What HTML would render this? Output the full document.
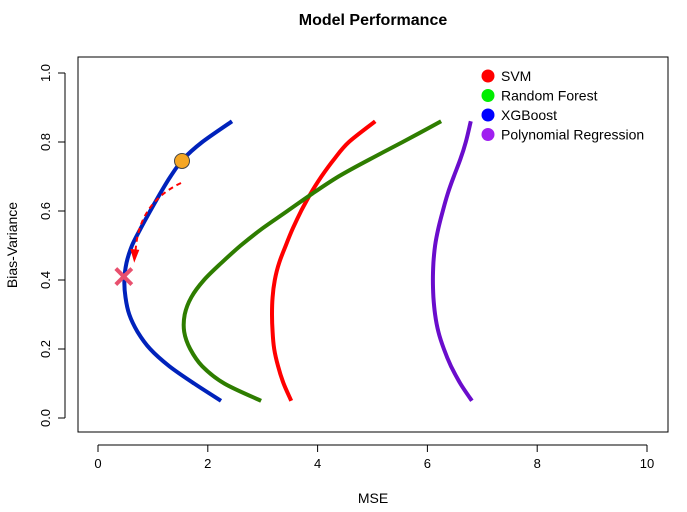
<!DOCTYPE html>
<html><head><meta charset="utf-8"><style>
body{margin:0;background:#fff;}
svg{display:block;font-family:"Liberation Sans",Arial,sans-serif;}
</style></head><body>
<svg id="chart" width="687" height="512">
<text x="373" y="25" text-anchor="middle" font-size="16" font-weight="bold">Model Performance</text>
<rect x="78" y="57" width="590" height="375" fill="none" stroke="#000" stroke-width="1"/>
<g id="xaxis"></g>
<g id="yaxis"></g>
<text x="373" y="503" text-anchor="middle" font-size="14">MSE</text>
<text transform="translate(17,245) rotate(-90)" text-anchor="middle" font-size="14">Bias-Variance</text>
<g id="series"></g>
<g id="annot"></g>
<g id="legend"></g>
</svg>
<script>
const xTicks=[0,2,4,6,8,10];
const yTicks=[0.0,0.2,0.4,0.6,0.8,1.0];
const seriesNames=["SVM","Random Forest","XGBoost","Polynomial Regression"];
const legendColors=["#ff0000","#00ee00","#0000ff","#a020f0"];
const yVals=[0.05,0.1,0.15,0.2,0.25,0.3,0.35,0.4,0.45,0.5,0.55,0.6,0.65,0.7,0.75,0.8,0.86];
const svmX=[3.52,3.38,3.28,3.21,3.18,3.17,3.18,3.22,3.3,3.42,3.55,3.7,3.87,4.07,4.3,4.57,5.05];
const rfX=[2.97,2.3,1.9,1.68,1.57,1.58,1.7,1.93,2.25,2.6,3.0,3.45,3.9,4.38,4.95,5.55,6.25];
const xgbX=[2.24,1.75,1.3,0.95,0.72,0.57,0.5,0.48,0.52,0.62,0.78,0.95,1.13,1.32,1.55,1.9,2.44];
const polyX=[6.81,6.6,6.43,6.3,6.2,6.14,6.11,6.1,6.11,6.14,6.2,6.28,6.37,6.48,6.6,6.7,6.79];
const lineColors=["#ff0000","#2e7d00","#0022bb","#6a0dcc"];
const optimum=[1.53,0.745];
const best=[0.47,0.41];
const NS="http://www.w3.org/2000/svg";
const X=v=>98+v*54.9, Y=v=>418-v*345;
function mk(t,a,p){const e=document.createElementNS(NS,t);for(const k in a)e.setAttribute(k,a[k]);p.appendChild(e);return e;}
function smooth(pts){
 let d='M'+pts[0][0].toFixed(1)+','+pts[0][1].toFixed(1);
 for(let i=0;i<pts.length-1;i++){
  const p0=pts[Math.max(0,i-1)],p1=pts[i],p2=pts[i+1],p3=pts[Math.min(pts.length-1,i+2)];
  const c1=[p1[0]+(p2[0]-p0[0])/6,p1[1]+(p2[1]-p0[1])/6];
  const c2=[p2[0]-(p3[0]-p1[0])/6,p2[1]-(p3[1]-p1[1])/6];
  d+=` C${c1[0].toFixed(1)},${c1[1].toFixed(1)} ${c2[0].toFixed(1)},${c2[1].toFixed(1)} ${p2[0].toFixed(1)},${p2[1].toFixed(1)}`;
 }
 return d;
}
const xa=document.getElementById('xaxis');
mk('line',{x1:X(0),x2:X(10),y1:445,y2:445,stroke:'#000'},xa);
xTicks.forEach(t=>{
 const l=mk('line',{x1:X(t),x2:X(t),y1:445,y2:452,stroke:'#000'},xa);
 
 
 const tx=mk('text',{x:X(t),y:468,'text-anchor':'middle','font-size':13},xa);tx.textContent=t;
 
 
});
const ya=document.getElementById('yaxis');
mk('line',{x1:65,x2:65,y1:Y(0),y2:Y(1),stroke:'#000'},ya);
yTicks.forEach(t=>{
 const l=mk('line',{x1:58,x2:65,y1:Y(t),y2:Y(t),stroke:'#000'},ya);
 
 
 const tx=mk('text',{transform:`translate(50,${Y(t)}) rotate(-90)`,'text-anchor':'middle','font-size':13},ya);tx.textContent=t.toFixed(1);
 
 
});
const sg=document.getElementById('series');
[svmX,rfX,xgbX,polyX].forEach((xs,i)=>{
 const pts=xs.map((x,j)=>[X(x),Y(yVals[j])]);
 const p=mk('path',{d:smooth(pts),fill:'none',stroke:lineColors[i],'stroke-width':4,'stroke-linejoin':'round'},sg);
 
 
});
const an=document.getElementById('annot');
const ar=mk('path',{d:`M${X(optimum[0])-1},${Y(optimum[1])+22} Q${X(0.7)},${Y(0.62)} ${X(0.68)},${Y(0.47)}`,fill:'none',stroke:'#ff0000','stroke-width':2,'stroke-dasharray':'5,4'},an);


const ah=mk('path',{d:`M${X(0.68)-5},${Y(0.47)-7} L${X(0.66)},${Y(0.45)} L${X(0.68)+4},${Y(0.47)-6} Z`,fill:'#ff0000'},an);


const od=mk('circle',{cx:X(optimum[0]),cy:Y(optimum[1]),r:7.5,fill:'#f5a623',stroke:'#444','stroke-width':1},an);


const bx=X(best[0]),by=Y(best[1]);
const xm=mk('path',{d:`M${bx-8},${by-8}L${bx+8},${by+8}M${bx-8},${by+8}L${bx+8},${by-8}`,stroke:'#e8506e','stroke-width':4},an);


const lg=document.getElementById('legend');
seriesNames.forEach((n,i)=>{
 const g=mk('g',{},lg);
 
 
 mk('circle',{cx:488,cy:76+i*19.5,r:6.5,fill:legendColors[i]},g);
 const t=mk('text',{x:501,y:81+i*19.5,'font-size':14},g);t.textContent=n;
});
</script>
</body></html>
